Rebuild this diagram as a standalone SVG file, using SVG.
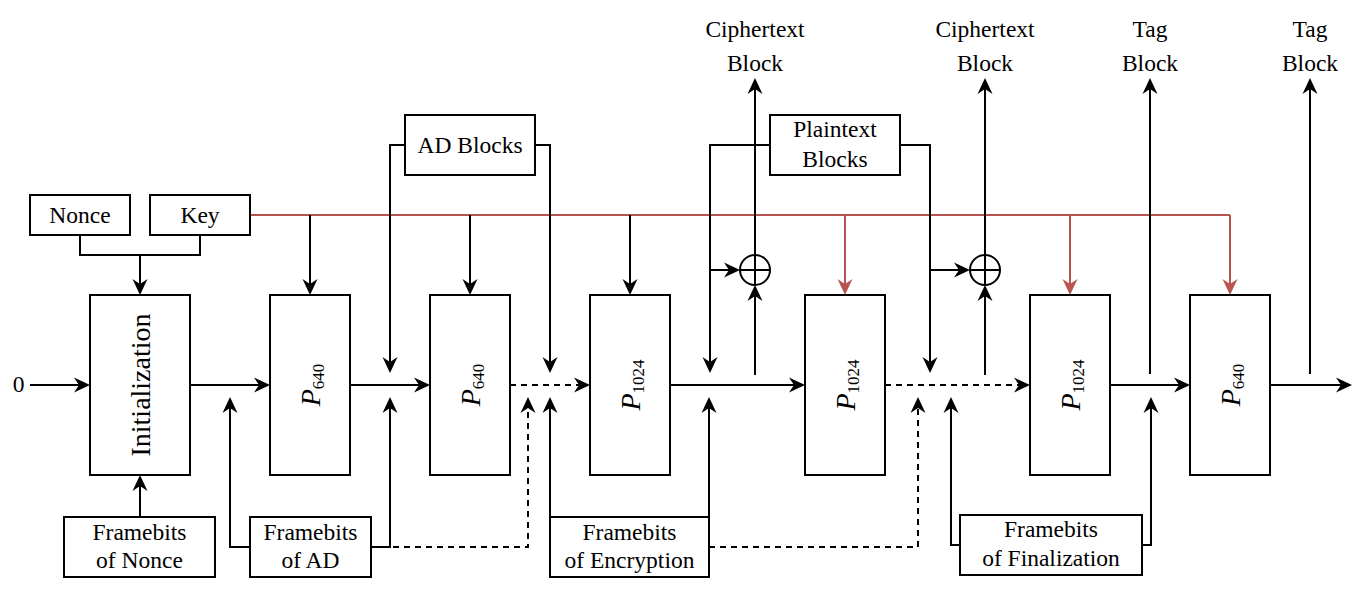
<svg xmlns="http://www.w3.org/2000/svg" width="1365" height="598" viewBox="0 0 1365 598">
<style>
.t{font-family:"Liberation Serif","Times New Roman",serif;font-size:23.5px;fill:#000;text-anchor:middle}
.big{font-size:28px}
.box{fill:#fff;stroke:#000;stroke-width:2}
.ln{fill:none;stroke:#000;stroke-width:2}
.dash{stroke-dasharray:6 5}
.red{fill:none;stroke:#b85450;stroke-width:2}
.ar{marker-end:url(#a)}
.arr{marker-end:url(#ar)}
</style>
<defs>
<marker id="a" markerUnits="userSpaceOnUse" markerWidth="17" markerHeight="17" refX="14" refY="8" orient="auto">
<path d="M0,0.5 L16,8 L0,15.5 L5,8 Z" fill="#000"/>
</marker>
<marker id="ar" markerUnits="userSpaceOnUse" markerWidth="17" markerHeight="17" refX="14" refY="8" orient="auto">
<path d="M0,0.5 L16,8 L0,15.5 L5,8 Z" fill="#b85450"/>
</marker>
</defs>
<rect width="1365" height="598" fill="#fff"/>

<g id="connectors">
<path class="red" d="M250,215 H1230"/>
<path class="ln ar" d="M310,215 V293"/>
<path class="ln ar" d="M470,215 V293"/>
<path class="ln ar" d="M630,215 V293"/>
<path class="red arr" d="M845,215 V293"/>
<path class="red arr" d="M1070,215 V293"/>
<path class="red arr" d="M1230,215 V293"/>
<path class="ln" d="M80,235 V255 H200 V235"/>
<path class="ln ar" d="M140,255 V293"/>
<path class="ln ar" d="M405,145 H390 V371"/>
<path class="ln ar" d="M535,145 H550 V371"/>
<path class="ln ar" d="M770,145 H710 V371"/>
<path class="ln ar" d="M710,270 H738"/>
<path class="ln ar" d="M900,145 H930 V371"/>
<path class="ln ar" d="M930,270 H968"/>
<path class="ln ar" d="M755,255 V80"/>
<path class="ln ar" d="M755,375 V287"/>
<path class="ln ar" d="M985,255 V80"/>
<path class="ln ar" d="M985,375 V287"/>
<path class="ln ar" d="M1150,374 V80"/>
<path class="ln ar" d="M1310,374 V80"/>
<path class="ln ar" d="M30,385 H88"/>
<path class="ln ar" d="M190,385 H268"/>
<path class="ln ar" d="M350,385 H428"/>
<path class="ln dash ar" d="M510,385 H588"/>
<path class="ln ar" d="M670,385 H803"/>
<path class="ln dash ar" d="M885,385 H1028"/>
<path class="ln ar" d="M1110,385 H1188"/>
<path class="ln ar" d="M1270,385 H1350"/>
<path class="ln ar" d="M140,517 V477"/>
<path class="ln ar" d="M250,547 H230 V399"/>
<path class="ln ar" d="M371,547 H390 V399"/>
<path class="ln dash ar" d="M371,547 H528 V399"/>
<path class="ln ar" d="M550,517 V399"/>
<path class="ln ar" d="M709,517 V399"/>
<path class="ln dash ar" d="M709,547 H918 V399"/>
<path class="ln ar" d="M960,545 H951 V399"/>
<path class="ln ar" d="M1142,545 H1151 V399"/>
</g>

<g id="xor1">
<circle cx="755" cy="270" r="15" fill="none" stroke="#000" stroke-width="2"/>
<path class="ln" d="M740,270 H770 M755,255 V285"/>
</g>
<g id="xor2">
<circle cx="985" cy="270" r="15" fill="none" stroke="#000" stroke-width="2"/>
<path class="ln" d="M970,270 H1000 M985,255 V285"/>
</g>

<g id="nonce"><rect class="box" x="30" y="195" width="100" height="40"/><text class="t" x="80" y="223">Nonce</text></g>
<g id="key"><rect class="box" x="150" y="195" width="100" height="40"/><text class="t" x="200" y="223">Key</text></g>
<g id="adblocks"><rect class="box" x="405" y="115" width="130" height="60"/><text class="t" x="470" y="153">AD Blocks</text></g>
<g id="ptblocks"><rect class="box" x="770" y="115" width="130" height="60"/><text class="t" x="835" y="137">Plaintext</text><text class="t" x="835" y="167">Blocks</text></g>

<g id="init"><rect class="box" x="90" y="295" width="100" height="180"/><text class="t big" x="140" y="395" transform="rotate(-90 140 385)">Initialization</text></g>
<g id="p1"><rect class="box" x="270" y="295" width="80" height="180"/><text class="t" x="310" y="395" transform="rotate(-90 310 385)"><tspan font-style="italic" font-size="28">P</tspan><tspan font-size="17" dy="4">640</tspan></text></g>
<g id="p2"><rect class="box" x="430" y="295" width="80" height="180"/><text class="t" x="470" y="395" transform="rotate(-90 470 385)"><tspan font-style="italic" font-size="28">P</tspan><tspan font-size="17" dy="4">640</tspan></text></g>
<g id="p3"><rect class="box" x="590" y="295" width="80" height="180"/><text class="t" x="630" y="395" transform="rotate(-90 630 385)"><tspan font-style="italic" font-size="28">P</tspan><tspan font-size="17" dy="4">1024</tspan></text></g>
<g id="p4"><rect class="box" x="805" y="295" width="80" height="180"/><text class="t" x="845" y="395" transform="rotate(-90 845 385)"><tspan font-style="italic" font-size="28">P</tspan><tspan font-size="17" dy="4">1024</tspan></text></g>
<g id="p5"><rect class="box" x="1030" y="295" width="80" height="180"/><text class="t" x="1070" y="395" transform="rotate(-90 1070 385)"><tspan font-style="italic" font-size="28">P</tspan><tspan font-size="17" dy="4">1024</tspan></text></g>
<g id="p6"><rect class="box" x="1190" y="295" width="80" height="180"/><text class="t" x="1230" y="395" transform="rotate(-90 1230 385)"><tspan font-style="italic" font-size="28">P</tspan><tspan font-size="17" dy="4">640</tspan></text></g>

<g id="fbnonce"><rect class="box" x="64" y="517" width="151" height="60"/><text class="t" x="139.5" y="540">Framebits</text><text class="t" x="139.5" y="568">of Nonce</text></g>
<g id="fbad"><rect class="box" x="250" y="517" width="121" height="60"/><text class="t" x="310.5" y="540">Framebits</text><text class="t" x="310.5" y="568">of AD</text></g>
<g id="fbenc"><rect class="box" x="550" y="517" width="159" height="60"/><text class="t" x="629.5" y="540">Framebits</text><text class="t" x="629.5" y="568">of Encryption</text></g>
<g id="fbfin"><rect class="box" x="960" y="515" width="182" height="60"/><text class="t" x="1051" y="537">Framebits</text><text class="t" x="1051" y="566">of Finalization</text></g>

<g id="zero"><text class="t" x="18.5" y="392">0</text></g>
<g id="ct1"><text class="t" x="755" y="37">Ciphertext</text><text class="t" x="755" y="71">Block</text></g>
<g id="ct2"><text class="t" x="985" y="37">Ciphertext</text><text class="t" x="985" y="71">Block</text></g>
<g id="tag1"><text class="t" x="1150" y="37">Tag</text><text class="t" x="1150" y="71">Block</text></g>
<g id="tag2"><text class="t" x="1310" y="37">Tag</text><text class="t" x="1310" y="71">Block</text></g>
</svg>
